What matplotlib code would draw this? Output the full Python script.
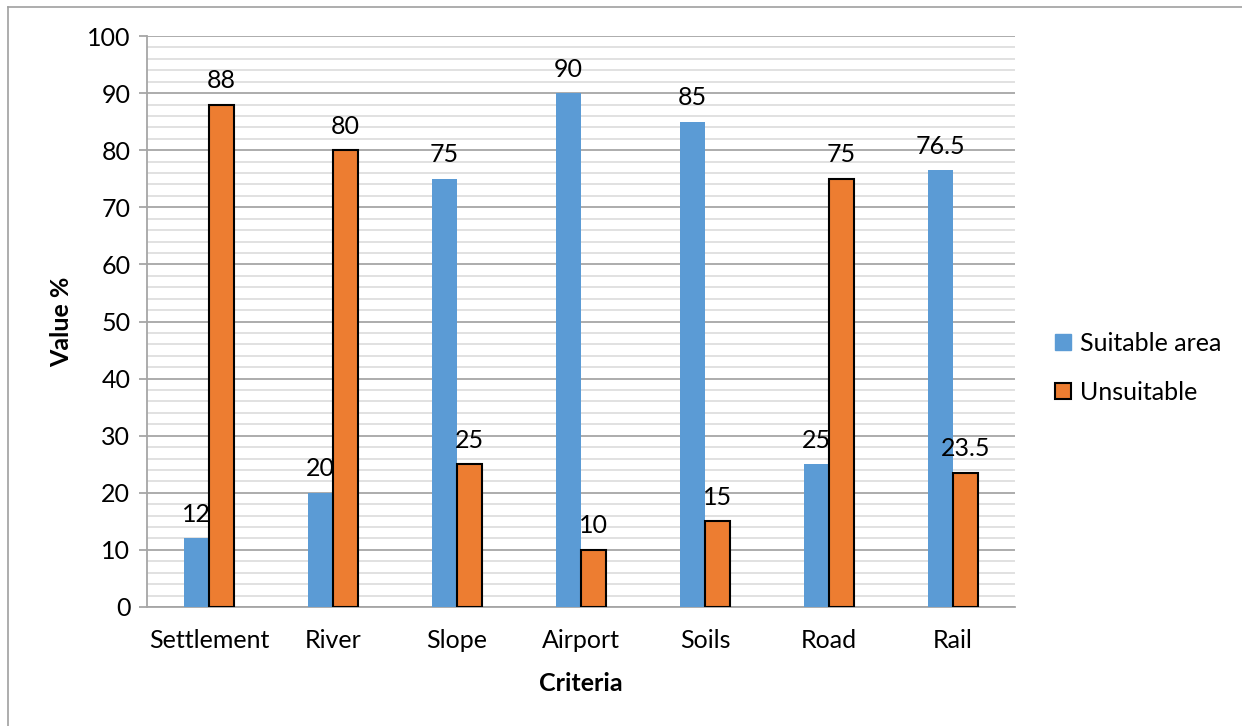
import matplotlib
matplotlib.use("Agg")
import matplotlib.pyplot as plt
from matplotlib.lines import Line2D
import numpy as np

categories = ["Settlement", "River", "Slope", "Airport", "Soils", "Road", "Rail"]
suitable = [12, 20, 75, 90, 85, 25, 76.5]
unsuitable = [88, 80, 25, 10, 15, 75, 23.5]
series_names = ["Suitable area", "Unsuitable"]

plt.rcParams["font.family"] = ["Lato", "DejaVu Sans"]

BLUE = "#5B9BD5"
ORANGE = "#ED7D31"
FS = 18

fig = plt.figure(figsize=(12.42, 7.26), dpi=100)
ax = fig.add_axes([147 / 1242, 1 - 607 / 726, (1015 - 147) / 1242, (607 - 36) / 726])

x = np.arange(len(categories))
w = 0.2
b1 = ax.bar(x - w / 2, suitable, width=w, color=BLUE, edgecolor="none", zorder=3)
b2 = ax.bar(x + w / 2, unsuitable, width=w, color=ORANGE, edgecolor="black",
            linewidth=1.5, zorder=3)

def fmt(v):
    return f"{v:g}"

for bars, vals in ((b1, suitable), (b2, unsuitable)):
    for rect, v in zip(bars, vals):
        ax.annotate(fmt(v), (rect.get_x() + rect.get_width() / 2, v),
                    xytext=(0, 9), textcoords="offset points",
                    ha="center", va="bottom", fontsize=FS, color="black", zorder=5)

ax.set_xlim(-0.5, len(categories) - 0.5)
ax.set_ylim(0, 100)
ax.set_yticks(np.arange(0, 101, 10))
ax.set_yticks(np.arange(0, 101, 2), minor=True)
ax.set_xticks(x)
ax.set_xticklabels(categories)

ax.grid(axis="y", which="major", color="#A6A6A6", linewidth=1.3, zorder=0)
ax.grid(axis="y", which="minor", color="#D9D9D9", linewidth=1.1, zorder=0)
ax.set_axisbelow(True)

for s in ("top", "right"):
    ax.spines[s].set_visible(False)
ax.spines["left"].set_color("#A6A6A6")
ax.spines["left"].set_linewidth(1.3)
ax.spines["bottom"].set_color("#A6A6A6")
ax.spines["bottom"].set_linewidth(1.3)

ax.tick_params(axis="y", which="major", length=6, color="#A6A6A6", width=1.3,
               labelsize=FS, pad=6)
ax.tick_params(axis="y", which="minor", length=0)
ax.tick_params(axis="x", length=0, labelsize=FS, pad=16)

ax.set_ylabel("Value %", fontsize=FS, fontweight="bold", labelpad=10)
ax.set_xlabel("Criteria", fontsize=FS, fontweight="bold", labelpad=14)

handles = [
    Line2D([], [], marker="s", linestyle="none", markersize=12,
           markerfacecolor=BLUE, markeredgecolor=BLUE),
    Line2D([], [], marker="s", linestyle="none", markersize=12,
           markerfacecolor=ORANGE, markeredgecolor="black", markeredgewidth=1.5),
]
fig.legend(handles, series_names, loc="center left",
           bbox_to_anchor=(1032 / 1242, 1 - 368 / 726), frameon=False,
           fontsize=FS, handlelength=0.7, handletextpad=0.3, labelspacing=1.05)

# partial outer frame along the top and left edges
fig.add_artist(Line2D([8 / 1242, 1.0], [1 - 7 / 726, 1 - 7 / 726],
                      transform=fig.transFigure, color="#A0A0A0", linewidth=1.2))
fig.add_artist(Line2D([8 / 1242, 8 / 1242], [0.0, 1 - 7 / 726],
                      transform=fig.transFigure, color="#A0A0A0", linewidth=1.2))

fig.savefig("out.png", dpi=100, facecolor="white")
